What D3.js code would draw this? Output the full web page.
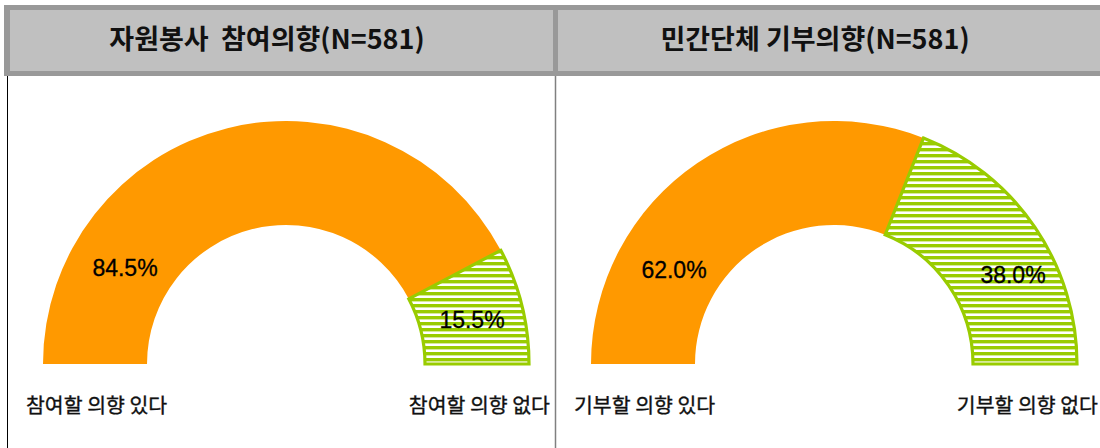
<!DOCTYPE html>
<html>
<head>
<meta charset="utf-8">
<script src="https://cdn.jsdelivr.net/npm/d3@7"></script>
<style>
  body { margin: 0; background: #fff; }
  svg { display: block; }
  .title { font-family: "Noto Sans CJK KR", sans-serif; font-weight: bold; font-size: 27px; fill: #111; }
  .cat { font-family: "Noto Sans CJK KR", sans-serif; font-size: 20.5px; fill: #111; stroke: #111; stroke-width: 0.35px; }
  .pct { font-family: "Liberation Sans", Arial, sans-serif; font-size: 23px; fill: #000; stroke: #000; stroke-width: 0.3px; }
</style>
</head>
<body>
<script>
let width = 1100,
    height = 448;

// chart data
let titles = ["자원봉사  참여의향(N=581)", "민간단체 기부의향(N=581)"];
let categories = [
    ["참여할 의향 있다", "참여할 의향 없다"],
    ["기부할 의향 있다", "기부할 의향 없다"]
];
let values = [
    [84.5, 15.5],
    [62.0, 38.0]
];

// where the percent labels sit, relative to each half-donut centre
let labelOffsets = [
    [[-161, -96], [186, -44]],
    [[-160, -94], [179, -89]]
];

let orange = '#ff9900',
    green = '#99cc00';

let svg = d3.select('body').append('svg')
    .attr('width', width)
    .attr('height', height);

let defs = svg.append('defs');
let pattern = defs.append('pattern')
    .attr('id', 'stripes')
    .attr('patternUnits', 'userSpaceOnUse')
    .attr('width', 8)
    .attr('height', 6);
pattern.append('rect').attr('width', 8).attr('height', 6).attr('fill', '#fff');
pattern.append('rect').attr('width', 8).attr('height', 3.4).attr('fill', green);

let panelX = d3.scaleBand()
    .domain(d3.range(titles.length))
    .range([7, 1103]);

// header band
svg.append('rect')
    .attr('x', 4).attr('y', 5)
    .attr('width', width).attr('height', 71)
    .attr('fill', '#999999');

svg.selectAll('rect.head').data(titles).enter()
    .append('rect')
    .attr('class', 'head')
    .attr('x', (d, i) => panelX(i) + 3)
    .attr('y', 10)
    .attr('width', panelX.bandwidth() - 5)
    .attr('height', 61)
    .attr('fill', '#c0c0c0');

svg.selectAll('text.title').data(titles).enter()
    .append('text')
    .attr('class', 'title')
    .attr('x', (d, i) => panelX(i) + panelX.bandwidth() / 2 - 14)
    .attr('y', 49)
    .attr('text-anchor', 'middle')
    .attr('xml:space', 'preserve')
    .style('white-space', 'pre')
    .text(d => d);

// panel borders below the header
svg.append('line')
    .attr('x1', 7.5).attr('x2', 7.5)
    .attr('y1', 76).attr('y2', height)
    .attr('stroke', '#000').attr('stroke-width', 1);
svg.append('line')
    .attr('x1', 555.5).attr('x2', 555.5)
    .attr('y1', 76).attr('y2', height)
    .attr('stroke', '#808080').attr('stroke-width', 1.5);

let pie = d3.pie()
    .sort(null)
    .startAngle(-Math.PI / 2)
    .endAngle(Math.PI / 2);

let arc = d3.arc()
    .innerRadius(139)
    .outerRadius(243);

let cy = 364;

values.forEach((vals, p) => {
    let cx = panelX(p) + 279;
    let g = svg.append('g').attr('transform', `translate(${cx},${cy})`);
    let slices = pie(vals);

    g.selectAll('path').data(slices).enter()
        .append('path')
        .attr('d', arc)
        .attr('fill', (d, i) => i === 0 ? orange : 'url(#stripes)')
        .attr('stroke', (d, i) => i === 0 ? 'none' : green)
        .attr('stroke-width', 3.2)
        .attr('stroke-linejoin', 'miter');

    g.selectAll('text.pct').data(slices).enter()
        .append('text')
        .attr('class', 'pct')
        .attr('x', (d, i) => labelOffsets[p][i][0])
        .attr('y', (d, i) => labelOffsets[p][i][1])
        .attr('text-anchor', 'middle')
        .attr('dominant-baseline', 'central')
        .text(d => d3.format('.1f')(d.data) + '%');

    svg.append('text')
        .attr('class', 'cat')
        .attr('x', panelX(p) + 19)
        .attr('y', 413)
        .text(categories[p][0]);
    svg.append('text')
        .attr('class', 'cat')
        .attr('x', panelX(p) + panelX.bandwidth() - 5)
        .attr('y', 413)
        .attr('text-anchor', 'end')
        .text(categories[p][1]);
});
</script>
</body>
</html>
